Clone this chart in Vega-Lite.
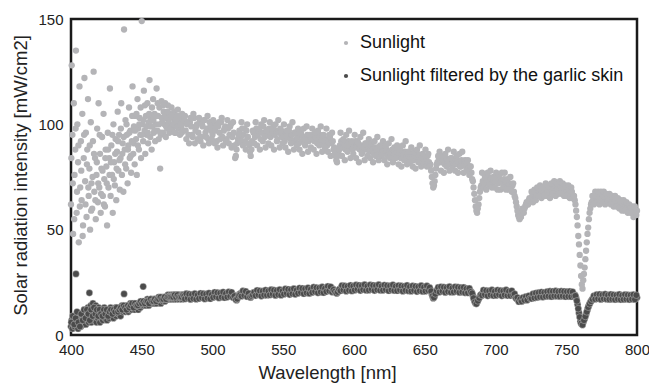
{
"$schema": "https://vega.github.io/schema/vega-lite/v6.json",
"width": 566, "height": 316,
"autosize": "none",
"padding": {"left": 71, "top": 19, "right": 12, "bottom": 50},
"background": "white",
"config": {"view": {"stroke": "#1a1a1a", "strokeWidth": 2.5}, "font": "Liberation Sans"},
"data": {"values": [
{"w":400,"s":62,"f":4},{"w":400.5,"s":128,"f":7},{"w":401,"s":95,"f":3},{"w":401.5,"s":48,"f":6},{"w":402,"s":110,"f":9},{"w":402.5,"s":76,"f":4},{"w":403,"s":88,"f":6},{"w":403.5,"s":135,"f":29},{"w":404,"s":58,"f":5},{"w":404.5,"s":100,"f":8},
{"w":405,"s":82,"f":3},{"w":405.5,"s":44,"f":7},{"w":406,"s":118,"f":5},{"w":406.5,"s":70,"f":9},{"w":407,"s":92,"f":4},{"w":407.5,"s":64,"f":7},{"w":408,"s":105,"f":10},{"w":408.5,"s":52,"f":5},{"w":409,"s":84,"f":8},{"w":409.5,"s":122,"f":6},
{"w":410,"s":73,"f":11},{"w":410.5,"s":96,"f":5},{"w":411,"s":56,"f":9},{"w":411.5,"s":88,"f":7},{"w":412,"s":112,"f":13},{"w":412.5,"s":66,"f":6},{"w":413,"s":79,"f":20},{"w":413.5,"s":50,"f":8},{"w":414,"s":101,"f":14},{"w":414.5,"s":72,"f":6},
{"w":415,"s":60,"f":10},{"w":415.5,"s":92,"f":15},{"w":416,"s":125,"f":7},{"w":416.5,"s":68,"f":12},{"w":417,"s":84,"f":9},{"w":417.5,"s":55,"f":14},{"w":418,"s":76,"f":6},{"w":418.5,"s":98,"f":11},{"w":419,"s":63,"f":8},{"w":419.5,"s":110,"f":13},
{"w":420,"s":70,"f":9},{"w":420.5,"s":86,"f":6},{"w":421,"s":58,"f":11},{"w":421.5,"s":79,"f":8},{"w":422,"s":94,"f":12},{"w":422.5,"s":66,"f":7},{"w":423,"s":105,"f":10},{"w":423.5,"s":74,"f":13},{"w":424,"s":61,"f":8},{"w":424.5,"s":88,"f":11},
{"w":425,"s":80,"f":9},{"w":425.5,"s":52,"f":7},{"w":426,"s":96,"f":12},{"w":426.5,"s":70,"f":10},{"w":427,"s":84,"f":8},{"w":427.5,"s":117,"f":11},{"w":428,"s":66,"f":13},{"w":428.5,"s":90,"f":9},{"w":429,"s":76,"f":10},{"w":429.5,"s":58,"f":12},
{"w":430,"s":100,"f":8},{"w":430.5,"s":82,"f":11},{"w":431,"s":71,"f":10},{"w":431.5,"s":93,"f":13},{"w":432,"s":64,"f":9},{"w":432.5,"s":87,"f":11},{"w":433,"s":106,"f":12},{"w":433.5,"s":78,"f":10},{"w":434,"s":95,"f":13},{"w":434.5,"s":69,"f":11},
{"w":435,"s":84,"f":9},{"w":435.5,"s":110,"f":12},{"w":436,"s":76,"f":14},{"w":436.5,"s":91,"f":11},{"w":437,"s":68,"f":12},{"w":437.5,"s":145,"f":19.5},{"w":438,"s":88,"f":13},{"w":438.5,"s":102,"f":11},{"w":439,"s":79,"f":14},{"w":439.5,"s":95,"f":12},
{"w":440,"s":72,"f":13},{"w":440.5,"s":90,"f":11},{"w":441,"s":108,"f":14},{"w":441.5,"s":84,"f":12},{"w":442,"s":97,"f":15},{"w":442.5,"s":77,"f":13},{"w":443,"s":92,"f":12},{"w":443.5,"s":118,"f":14},{"w":444,"s":86,"f":13},{"w":444.5,"s":99,"f":15},
{"w":445,"s":81,"f":12},{"w":445.5,"s":104,"f":14},{"w":446,"s":93,"f":13},{"w":446.5,"s":76,"f":15},{"w":447,"s":112,"f":14},{"w":447.5,"s":98,"f":12},{"w":448,"s":88,"f":15},{"w":448.5,"s":103,"f":14},{"w":449,"s":95,"f":13},{"w":449.5,"s":84,"f":15},
{"w":450,"s":149,"f":14},{"w":450.5,"s":100,"f":16},{"w":451,"s":92,"f":23},{"w":451.5,"s":116,"f":14},{"w":452,"s":97,"f":15},{"w":452.5,"s":86,"f":16},{"w":453,"s":104,"f":14},{"w":453.5,"s":95,"f":15},{"w":454,"s":110,"f":17},{"w":454.5,"s":91,"f":15},
{"w":455,"s":101,"f":14},{"w":455.5,"s":121,"f":16},{"w":456,"s":94,"f":15},{"w":456.5,"s":103,"f":17},{"w":457,"s":88,"f":16},{"w":457.5,"s":99,"f":15},{"w":458,"s":112,"f":17},{"w":458.5,"s":96,"f":16},{"w":459,"s":105,"f":15},{"w":459.5,"s":92,"f":17},
{"w":460,"s":100,"f":16},{"w":460.5,"s":117,"f":15},{"w":461,"s":97,"f":17},{"w":461.5,"s":104,"f":16},{"w":462,"s":93,"f":18},{"w":462.5,"s":108,"f":16},{"w":463,"s":79,"f":17},{"w":463.5,"s":95,"f":15},{"w":464,"s":111,"f":17},{"w":464.5,"s":101,"f":18},
{"w":465,"s":96,"f":16},{"w":465.5,"s":106,"f":17},{"w":466,"s":100,"f":18},{"w":466.5,"s":110,"f":16},{"w":467,"s":94,"f":17},{"w":467.5,"s":103,"f":18},{"w":468,"s":98,"f":17},{"w":468.5,"s":109,"f":19},{"w":469,"s":101,"f":17},{"w":469.5,"s":96,"f":18},
{"w":470,"s":105,"f":17},{"w":470.5,"s":100,"f":19},{"w":471,"s":108,"f":18},{"w":471.5,"s":97,"f":17},{"w":472,"s":103,"f":19},{"w":472.5,"s":99,"f":18},{"w":473,"s":106,"f":17},{"w":473.5,"s":101,"f":19},{"w":474,"s":96,"f":18},{"w":474.5,"s":104,"f":17},
{"w":475,"s":100,"f":19},{"w":475.5,"s":107,"f":18},{"w":476,"s":98,"f":19},{"w":476.5,"s":102,"f":17},{"w":477,"s":95,"f":18},{"w":477.5,"s":103,"f":19},{"w":478,"s":99,"f":18},{"w":478.5,"s":105,"f":17},{"w":479,"s":97,"f":19},{"w":479.5,"s":101,"f":18},
{"w":400.25,"s":84,"f":6},{"w":401.25,"s":72,"f":9},{"w":402.25,"s":55,"f":5},{"w":403.25,"s":98,"f":8},{"w":404.25,"s":68,"f":11},{"w":405.25,"s":90,"f":6},{"w":406.25,"s":61,"f":4},{"w":407.25,"s":78,"f":10},{"w":408.25,"s":47,"f":7},{"w":409.25,"s":95,"f":12},
{"w":410.25,"s":62,"f":8},{"w":411.25,"s":81,"f":12},{"w":412.25,"s":70,"f":10},{"w":413.25,"s":90,"f":7},{"w":414.25,"s":59,"f":12},{"w":415.25,"s":75,"f":9},{"w":416.25,"s":86,"f":13},{"w":417.25,"s":64,"f":10},{"w":418.25,"s":82,"f":12},{"w":419.25,"s":72,"f":9},
{"w":420.25,"s":95,"f":12},{"w":421.25,"s":67,"f":10},{"w":422.25,"s":78,"f":9},{"w":423.25,"s":62,"f":12},{"w":424.25,"s":84,"f":10},{"w":425.25,"s":72,"f":12},{"w":426.25,"s":88,"f":9},{"w":427.25,"s":76,"f":11},{"w":428.25,"s":82,"f":12},{"w":429.25,"s":95,"f":10},
{"w":430.25,"s":74,"f":12},{"w":431.25,"s":86,"f":11},{"w":432.25,"s":79,"f":13},{"w":433.25,"s":92,"f":11},{"w":434.25,"s":83,"f":12},{"w":435.25,"s":98,"f":13},{"w":436.25,"s":86,"f":12},{"w":437.25,"s":94,"f":14},{"w":438.25,"s":81,"f":13},{"w":439.25,"s":100,"f":12},
{"w":440.25,"s":88,"f":14},{"w":441.25,"s":96,"f":13},{"w":442.25,"s":85,"f":14},{"w":443.25,"s":104,"f":15},{"w":444.25,"s":91,"f":13},{"w":445.25,"s":97,"f":15},{"w":446.25,"s":105,"f":14},{"w":447.25,"s":90,"f":14},{"w":448.25,"s":100,"f":15},{"w":449.25,"s":108,"f":16},
{"w":450.25,"s":95,"f":15},{"w":451.25,"s":102,"f":16},{"w":452.25,"s":109,"f":15},{"w":453.25,"s":99,"f":16},{"w":454.25,"s":96,"f":16},{"w":455.25,"s":105,"f":15},{"w":456.25,"s":99,"f":17},{"w":457.25,"s":108,"f":16},{"w":458.25,"s":102,"f":16},{"w":459.25,"s":97,"f":17},
{"w":460.25,"s":104,"f":16},{"w":461.25,"s":110,"f":17},{"w":462.25,"s":100,"f":17},{"w":463.25,"s":96,"f":18},{"w":464.25,"s":103,"f":17},{"w":465.25,"s":109,"f":17},{"w":466.25,"s":104,"f":18},{"w":467.25,"s":99,"f":17},{"w":468.25,"s":106,"f":18},{"w":469.25,"s":103,"f":18},
{"w":470.25,"s":98,"f":18},{"w":471.25,"s":104,"f":18},{"w":472.25,"s":100,"f":18},{"w":473.25,"s":96,"f":19},{"w":474.25,"s":102,"f":18},{"w":475.25,"s":99,"f":19},{"w":476.25,"s":104,"f":18},{"w":477.25,"s":100,"f":18},{"w":478.25,"s":96,"f":18},{"w":479.25,"s":102,"f":19},
{"w":480,"s":102,"f":18.5},{"w":481,"s":97,"f":17.6},{"w":482,"s":100,"f":18.9},{"w":483,"s":95,"f":17.9},{"w":484,"s":101,"f":18.3},{"w":485,"s":99,"f":19.2},{"w":486,"s":94,"f":17.8},{"w":487,"s":103,"f":18.6},{"w":488,"s":97,"f":18.1},{"w":489,"s":100,"f":19.0},
{"w":490,"s":96,"f":18.2},{"w":491,"s":101,"f":19.3},{"w":492,"s":94,"f":18.4},{"w":493,"s":99,"f":17.9},{"w":494,"s":102,"f":19.1},{"w":495,"s":96,"f":18.5},{"w":496,"s":98,"f":19.4},{"w":497,"s":93,"f":18.3},{"w":498,"s":101,"f":19.0},{"w":499,"s":97,"f":18.6},
{"w":500,"s":95,"f":19.5},{"w":501,"s":100,"f":18.7},{"w":502,"s":97,"f":19.2},{"w":503,"s":92,"f":18.4},{"w":504,"s":99,"f":19.6},{"w":505,"s":96,"f":18.9},{"w":506,"s":101,"f":19.3},{"w":507,"s":94,"f":18.6},{"w":508,"s":97,"f":19.8},{"w":509,"s":99,"f":19.0},
{"w":510,"s":93,"f":19.4},{"w":511,"s":98,"f":18.8},{"w":512,"s":95,"f":19.7},{"w":513,"s":100,"f":19.1},{"w":514,"s":94,"f":19.5},{"w":515,"s":96,"f":18.9},{"w":516,"s":84,"f":17.5},{"w":517,"s":88,"f":16.5},{"w":518,"s":93,"f":18.2},{"w":519,"s":97,"f":19.4},
{"w":520,"s":94,"f":19.8},{"w":521,"s":98,"f":19.2},{"w":522,"s":95,"f":20.0},{"w":523,"s":92,"f":19.4},{"w":524,"s":97,"f":19.9},{"w":525,"s":94,"f":19.3},{"w":526,"s":90,"f":18.4},{"w":527,"s":85,"f":17.8},{"w":528,"s":92,"f":19.6},{"w":529,"s":96,"f":20.1},
{"w":530,"s":94,"f":19.5},{"w":531,"s":98,"f":20.3},{"w":532,"s":95,"f":19.7},{"w":533,"s":97,"f":20.2},{"w":534,"s":93,"f":19.6},{"w":535,"s":96,"f":20.4},{"w":536,"s":99,"f":19.9},{"w":537,"s":94,"f":20.5},{"w":538,"s":97,"f":19.8},{"w":539,"s":95,"f":20.3},
{"w":540,"s":98,"f":20.0},{"w":541,"s":94,"f":20.6},{"w":542,"s":96,"f":19.9},{"w":543,"s":99,"f":20.4},{"w":544,"s":95,"f":20.1},{"w":545,"s":97,"f":20.7},{"w":546,"s":93,"f":20.0},{"w":547,"s":96,"f":20.5},{"w":548,"s":98,"f":20.9},{"w":549,"s":94,"f":20.2},
{"w":550,"s":95,"f":20.6},{"w":551,"s":92,"f":21.0},{"w":552,"s":96,"f":20.3},{"w":553,"s":94,"f":20.8},{"w":554,"s":97,"f":21.1},{"w":555,"s":93,"f":20.5},{"w":556,"s":95,"f":20.9},{"w":557,"s":92,"f":21.3},{"w":558,"s":96,"f":20.6},{"w":559,"s":93,"f":21.1},
{"w":560,"s":94,"f":20.8},{"w":561,"s":91,"f":21.4},{"w":562,"s":95,"f":20.9},{"w":563,"s":92,"f":21.2},{"w":564,"s":94,"f":21.6},{"w":565,"s":91,"f":20.9},{"w":566,"s":93,"f":21.4},{"w":567,"s":95,"f":21.1},{"w":568,"s":92,"f":21.7},{"w":569,"s":94,"f":21.2},
{"w":570,"s":93,"f":21.5},{"w":571,"s":95,"f":21.9},{"w":572,"s":92,"f":21.3},{"w":573,"s":94,"f":21.7},{"w":574,"s":91,"f":21.2},{"w":575,"s":93,"f":21.8},{"w":576,"s":95,"f":21.4},{"w":577,"s":92,"f":22.0},{"w":578,"s":94,"f":21.5},{"w":579,"s":91,"f":21.9},
{"w":580,"s":93,"f":22.3},{"w":581,"s":90,"f":21.6},{"w":582,"s":92,"f":22.1},{"w":583,"s":94,"f":21.7},{"w":584,"s":91,"f":22.4},{"w":585,"s":92,"f":21.9},{"w":586,"s":89,"f":21.2},{"w":587,"s":85,"f":20.3},{"w":588,"s":82,"f":19.8},{"w":589,"s":87,"f":21.0},
{"w":590,"s":90,"f":21.9},{"w":591,"s":92,"f":22.4},{"w":592,"s":89,"f":21.8},{"w":593,"s":91,"f":22.5},{"w":594,"s":88,"f":22.0},{"w":595,"s":90,"f":22.6},{"w":596,"s":92,"f":22.1},{"w":597,"s":89,"f":22.7},{"w":598,"s":91,"f":22.2},{"w":599,"s":88,"f":22.8},
{"w":600,"s":90,"f":22.3},{"w":601,"s":92,"f":22.9},{"w":602,"s":89,"f":22.4},{"w":603,"s":91,"f":22.8},{"w":604,"s":88,"f":22.2},{"w":605,"s":90,"f":22.7},{"w":606,"s":87,"f":23.0},{"w":607,"s":89,"f":22.4},{"w":608,"s":91,"f":22.9},{"w":609,"s":88,"f":22.3},
{"w":610,"s":89,"f":22.8},{"w":611,"s":87,"f":22.2},{"w":612,"s":90,"f":22.7},{"w":613,"s":88,"f":22.1},{"w":614,"s":86,"f":22.6},{"w":615,"s":89,"f":22.9},{"w":616,"s":87,"f":22.3},{"w":617,"s":89,"f":22.8},{"w":618,"s":86,"f":22.2},{"w":619,"s":88,"f":22.6},
{"w":620,"s":87,"f":22.1},{"w":621,"s":89,"f":22.7},{"w":622,"s":86,"f":22.3},{"w":623,"s":88,"f":22.8},{"w":624,"s":85,"f":22.2},{"w":625,"s":87,"f":22.5},{"w":626,"s":86,"f":22.0},{"w":627,"s":88,"f":22.6},{"w":628,"s":85,"f":22.1},{"w":629,"s":87,"f":22.5},
{"w":630,"s":86,"f":22.0},{"w":631,"s":85,"f":22.4},{"w":632,"s":87,"f":21.9},{"w":633,"s":84,"f":22.5},{"w":634,"s":86,"f":22.0},{"w":635,"s":85,"f":22.4},{"w":636,"s":87,"f":21.8},{"w":637,"s":84,"f":22.3},{"w":638,"s":86,"f":21.9},{"w":639,"s":85,"f":22.4},
{"w":640,"s":84,"f":21.8},{"w":641,"s":86,"f":22.2},{"w":642,"s":83,"f":21.7},{"w":643,"s":85,"f":22.3},{"w":644,"s":84,"f":21.8},{"w":645,"s":86,"f":22.2},{"w":646,"s":83,"f":21.7},{"w":647,"s":85,"f":22.1},{"w":648,"s":84,"f":21.6},{"w":649,"s":82,"f":22.2},
{"w":650,"s":84,"f":21.8},{"w":651,"s":83,"f":22.1},{"w":652,"s":85,"f":21.6},{"w":653,"s":82,"f":22.0},{"w":654,"s":81,"f":21.4},{"w":655,"s":75,"f":19.5},{"w":656,"s":70,"f":17.5},{"w":657,"s":73,"f":18.5},{"w":658,"s":79,"f":20.5},{"w":659,"s":82,"f":21.4},
{"w":660,"s":84,"f":21.9},{"w":661,"s":82,"f":21.4},{"w":662,"s":84,"f":21.8},{"w":663,"s":83,"f":21.3},{"w":664,"s":81,"f":21.9},{"w":665,"s":84,"f":21.4},{"w":666,"s":82,"f":21.8},{"w":667,"s":83,"f":21.2},{"w":668,"s":81,"f":21.7},{"w":669,"s":84,"f":21.3},
{"w":670,"s":82,"f":21.8},{"w":671,"s":83,"f":21.2},{"w":672,"s":81,"f":21.7},{"w":673,"s":83,"f":21.3},{"w":674,"s":82,"f":21.8},{"w":675,"s":80,"f":21.2},{"w":676,"s":83,"f":21.6},{"w":677,"s":81,"f":21.1},{"w":678,"s":82,"f":21.5},{"w":679,"s":80,"f":21.0},
{"w":680,"s":81,"f":21.4},{"w":681,"s":79,"f":20.9},{"w":682,"s":80,"f":21.2},{"w":683,"s":77,"f":20.4},{"w":684,"s":73,"f":18.8},{"w":685,"s":67,"f":16.5},{"w":686,"s":61,"f":15.0},{"w":687,"s":58,"f":15.5},{"w":688,"s":62,"f":17.0},{"w":689,"s":68,"f":18.4},
{"w":690,"s":71,"f":19.2},{"w":691,"s":73,"f":19.8},{"w":692,"s":72,"f":19.3},{"w":693,"s":74,"f":20.0},{"w":694,"s":73,"f":19.5},{"w":695,"s":75,"f":20.2},{"w":696,"s":73,"f":19.7},{"w":697,"s":74,"f":20.3},{"w":698,"s":72,"f":19.8},{"w":699,"s":74,"f":20.4},
{"w":700,"s":73,"f":19.9},{"w":701,"s":75,"f":20.5},{"w":702,"s":72,"f":20.0},{"w":703,"s":74,"f":20.6},{"w":704,"s":73,"f":20.1},{"w":705,"s":72,"f":20.5},{"w":706,"s":74,"f":19.9},{"w":707,"s":72,"f":20.4},{"w":708,"s":73,"f":19.8},{"w":709,"s":71,"f":20.3},
{"w":710,"s":72,"f":19.7},{"w":711,"s":70,"f":20.1},{"w":712,"s":71,"f":19.5},{"w":713,"s":68,"f":19.0},{"w":714,"s":65,"f":18.2},{"w":715,"s":61,"f":17.3},{"w":716,"s":57,"f":16.6},{"w":717,"s":55,"f":16.2},{"w":718,"s":56,"f":16.5},{"w":719,"s":60,"f":17.4},
{"w":720,"s":58,"f":16.9},{"w":721,"s":61,"f":17.6},{"w":722,"s":63,"f":17.1},{"w":723,"s":62,"f":17.9},{"w":724,"s":65,"f":18.3},{"w":725,"s":64,"f":17.9},{"w":726,"s":66,"f":18.6},{"w":727,"s":65,"f":18.2},{"w":728,"s":67,"f":18.8},{"w":729,"s":66,"f":18.4},
{"w":730,"s":68,"f":19.0},{"w":731,"s":67,"f":18.6},{"w":732,"s":69,"f":19.2},{"w":733,"s":67,"f":18.8},{"w":734,"s":68,"f":19.3},{"w":735,"s":69,"f":18.9},{"w":736,"s":67,"f":19.5},{"w":737,"s":69,"f":19.0},{"w":738,"s":68,"f":19.6},{"w":739,"s":70,"f":19.1},
{"w":740,"s":69,"f":19.7},{"w":741,"s":70,"f":19.2},{"w":742,"s":68,"f":19.8},{"w":743,"s":71,"f":19.3},{"w":744,"s":69,"f":19.9},{"w":745,"s":70,"f":19.4},{"w":746,"s":71,"f":19.8},{"w":747,"s":69,"f":19.3},{"w":748,"s":70,"f":19.9},{"w":749,"s":68,"f":19.4},
{"w":750,"s":69,"f":19.8},{"w":751,"s":68,"f":19.3},{"w":752,"s":69,"f":19.9},{"w":753,"s":67,"f":19.4},{"w":754,"s":68,"f":19.8},{"w":755,"s":66,"f":19.2},{"w":756,"s":64,"f":19.0},{"w":757,"s":59,"f":17.5},{"w":758,"s":52,"f":14.5},{"w":759,"s":43,"f":10.5},
{"w":760,"s":33,"f":6.5},{"w":761,"s":24,"f":5.2},{"w":762,"s":26,"f":6.0},{"w":763,"s":32,"f":7.8},{"w":764,"s":40,"f":9.8},{"w":765,"s":48,"f":12.0},{"w":766,"s":55,"f":14.0},{"w":767,"s":60,"f":15.5},{"w":768,"s":63,"f":16.6},{"w":769,"s":64,"f":17.3},
{"w":770,"s":66,"f":17.9},{"w":771,"s":65,"f":18.3},{"w":772,"s":66,"f":17.8},{"w":773,"s":65,"f":18.4},{"w":774,"s":66,"f":17.9},{"w":775,"s":65,"f":18.5},{"w":776,"s":66,"f":18.0},{"w":777,"s":64,"f":18.6},{"w":778,"s":65,"f":18.1},{"w":779,"s":66,"f":18.5},
{"w":780,"s":64,"f":17.9},{"w":781,"s":65,"f":18.4},{"w":782,"s":63,"f":17.8},{"w":783,"s":64,"f":18.3},{"w":784,"s":63,"f":17.7},{"w":785,"s":64,"f":18.2},{"w":786,"s":62,"f":17.8},{"w":787,"s":63,"f":18.3},{"w":788,"s":62,"f":17.7},{"w":789,"s":61,"f":18.2},
{"w":790,"s":62,"f":17.8},{"w":791,"s":60,"f":18.3},{"w":792,"s":61,"f":17.6},{"w":793,"s":60,"f":18.1},{"w":794,"s":59,"f":17.7},{"w":795,"s":60,"f":18.2},{"w":796,"s":59,"f":17.6},{"w":797,"s":58,"f":18.1},{"w":798,"s":59,"f":17.7},{"w":799,"s":58,"f":18.2},
{"w":800,"s":59,"f":17.8},
{"w":480.5,"s":104,"f":17.1},{"w":481.5,"s":93,"f":19.6},{"w":482.5,"s":101,"f":17.5},{"w":483.5,"s":91,"f":19.4},{"w":484.5,"s":103,"f":16.9},{"w":485.5,"s":95,"f":19.2},{"w":486.5,"s":105,"f":17.3},{"w":487.5,"s":91,"f":19.7},{"w":488.5,"s":99,"f":17.0},{"w":489.5,"s":93,"f":19.0},
{"w":490.5,"s":103,"f":17.3},{"w":491.5,"s":92,"f":19.8},{"w":492.5,"s":100,"f":17.7},{"w":493.5,"s":90,"f":19.6},{"w":494.5,"s":102,"f":17.1},{"w":495.5,"s":94,"f":19.4},{"w":496.5,"s":104,"f":17.5},{"w":497.5,"s":91,"f":19.9},{"w":498.5,"s":99,"f":17.2},{"w":499.5,"s":93,"f":19.2},
{"w":500.5,"s":102,"f":17.8},{"w":501.5,"s":91,"f":20.3},{"w":502.5,"s":99,"f":18.2},{"w":503.5,"s":89,"f":20.1},{"w":504.5,"s":101,"f":17.6},{"w":505.5,"s":93,"f":19.9},{"w":506.5,"s":103,"f":18.0},{"w":507.5,"s":90,"f":20.4},{"w":508.5,"s":98,"f":17.7},{"w":509.5,"s":92,"f":19.7},
{"w":510.5,"s":102,"f":18.0},{"w":511.5,"s":91,"f":20.5},{"w":512.5,"s":99,"f":18.4},{"w":513.5,"s":89,"f":20.3},{"w":514.5,"s":101,"f":17.8},{"w":515.5,"s":90,"f":18.5},{"w":516.5,"s":85,"f":16.8},{"w":517.5,"s":91,"f":17.2},{"w":518.5,"s":95,"f":18.6},{"w":519.5,"s":92,"f":19.0},
{"w":520.5,"s":101,"f":18.4},{"w":521.5,"s":90,"f":20.9},{"w":522.5,"s":98,"f":18.8},{"w":523.5,"s":88,"f":20.7},{"w":524.5,"s":100,"f":18.2},{"w":525.5,"s":91,"f":19.8},{"w":526.5,"s":87,"f":18.0},{"w":527.5,"s":88,"f":18.5},{"w":528.5,"s":97,"f":19.0},{"w":529.5,"s":91,"f":20.3},
{"w":530.5,"s":101,"f":18.7},{"w":531.5,"s":90,"f":21.2},{"w":532.5,"s":98,"f":19.1},{"w":533.5,"s":88,"f":21.0},{"w":534.5,"s":100,"f":18.5},{"w":535.5,"s":92,"f":20.8},{"w":536.5,"s":102,"f":18.9},{"w":537.5,"s":89,"f":21.3},{"w":538.5,"s":97,"f":18.9},{"w":539.5,"s":91,"f":20.9},
{"w":540.5,"s":101,"f":19.0},{"w":541.5,"s":90,"f":21.5},{"w":542.5,"s":98,"f":19.4},{"w":543.5,"s":88,"f":21.3},{"w":544.5,"s":100,"f":18.8},{"w":545.5,"s":92,"f":21.1},{"w":546.5,"s":102,"f":19.2},{"w":547.5,"s":89,"f":21.6},{"w":548.5,"s":97,"f":18.9},{"w":549.5,"s":91,"f":20.9},
{"w":550.5,"s":100,"f":19.4},{"w":551.5,"s":89,"f":21.9},{"w":552.5,"s":97,"f":19.8},{"w":553.5,"s":87,"f":21.7},{"w":554.5,"s":99,"f":19.2},{"w":555.5,"s":91,"f":21.5},{"w":556.5,"s":101,"f":19.6},{"w":557.5,"s":88,"f":22.0},{"w":558.5,"s":96,"f":19.3},{"w":559.5,"s":90,"f":21.3},
{"w":560.5,"s":98,"f":19.8},{"w":561.5,"s":88,"f":22.3},{"w":562.5,"s":96,"f":20.2},{"w":563.5,"s":86,"f":22.1},{"w":564.5,"s":98,"f":19.6},{"w":565.5,"s":90,"f":21.9},{"w":566.5,"s":99,"f":20.0},{"w":567.5,"s":87,"f":22.4},{"w":568.5,"s":95,"f":19.7},{"w":569.5,"s":89,"f":21.7},
{"w":570.5,"s":98,"f":20.2},{"w":571.5,"s":88,"f":22.7},{"w":572.5,"s":96,"f":20.6},{"w":573.5,"s":86,"f":22.5},{"w":574.5,"s":97,"f":20.0},{"w":575.5,"s":90,"f":22.3},{"w":576.5,"s":99,"f":20.4},{"w":577.5,"s":87,"f":22.8},{"w":578.5,"s":95,"f":20.1},{"w":579.5,"s":89,"f":22.1},
{"w":580.5,"s":98,"f":20.6},{"w":581.5,"s":87,"f":23.1},{"w":582.5,"s":95,"f":21.0},{"w":583.5,"s":85,"f":22.9},{"w":584.5,"s":96,"f":20.4},{"w":585.5,"s":88,"f":21.5},{"w":586.5,"s":86,"f":20.6},{"w":587.5,"s":83,"f":19.9},{"w":588.5,"s":85,"f":20.4},{"w":589.5,"s":88,"f":21.6},
{"w":590.5,"s":96,"f":21.0},{"w":591.5,"s":85,"f":23.5},{"w":592.5,"s":93,"f":21.4},{"w":593.5,"s":83,"f":23.3},{"w":594.5,"s":95,"f":20.8},{"w":595.5,"s":87,"f":23.1},{"w":596.5,"s":97,"f":21.2},{"w":597.5,"s":84,"f":23.6},{"w":598.5,"s":92,"f":20.9},{"w":599.5,"s":86,"f":23.2},
{"w":600.5,"s":95,"f":21.3},{"w":601.5,"s":84,"f":23.8},{"w":602.5,"s":92,"f":21.7},{"w":603.5,"s":82,"f":23.6},{"w":604.5,"s":94,"f":21.1},{"w":605.5,"s":86,"f":23.4},{"w":606.5,"s":96,"f":21.5},{"w":607.5,"s":83,"f":23.9},{"w":608.5,"s":91,"f":21.2},{"w":609.5,"s":85,"f":23.2},
{"w":610.5,"s":93,"f":21.3},{"w":611.5,"s":84,"f":23.8},{"w":612.5,"s":91,"f":21.7},{"w":613.5,"s":82,"f":23.6},{"w":614.5,"s":92,"f":21.1},{"w":615.5,"s":85,"f":23.4},{"w":616.5,"s":94,"f":21.5},{"w":617.5,"s":83,"f":23.9},{"w":618.5,"s":90,"f":21.2},{"w":619.5,"s":85,"f":23.2},
{"w":620.5,"s":92,"f":21.2},{"w":621.5,"s":83,"f":23.7},{"w":622.5,"s":90,"f":21.6},{"w":623.5,"s":81,"f":23.5},{"w":624.5,"s":91,"f":21.0},{"w":625.5,"s":84,"f":23.3},{"w":626.5,"s":93,"f":21.4},{"w":627.5,"s":82,"f":23.8},{"w":628.5,"s":89,"f":21.1},{"w":629.5,"s":84,"f":23.1},
{"w":630.5,"s":90,"f":21.0},{"w":631.5,"s":81,"f":23.5},{"w":632.5,"s":88,"f":21.4},{"w":633.5,"s":80,"f":23.3},{"w":634.5,"s":90,"f":20.8},{"w":635.5,"s":83,"f":23.1},{"w":636.5,"s":92,"f":21.2},{"w":637.5,"s":81,"f":23.6},{"w":638.5,"s":87,"f":20.9},{"w":639.5,"s":82,"f":22.9},
{"w":640.5,"s":89,"f":20.8},{"w":641.5,"s":80,"f":23.3},{"w":642.5,"s":87,"f":21.2},{"w":643.5,"s":79,"f":23.1},{"w":644.5,"s":88,"f":20.6},{"w":645.5,"s":82,"f":22.9},{"w":646.5,"s":90,"f":21.0},{"w":647.5,"s":80,"f":23.4},{"w":648.5,"s":86,"f":20.7},{"w":649.5,"s":81,"f":22.7},
{"w":650.5,"s":88,"f":20.8},{"w":651.5,"s":80,"f":23.3},{"w":652.5,"s":86,"f":21.2},{"w":653.5,"s":80,"f":22.5},{"w":654.5,"s":78,"f":20.8},{"w":655.5,"s":72,"f":18.5},{"w":656.5,"s":71,"f":17.8},{"w":657.5,"s":76,"f":19.5},{"w":658.5,"s":81,"f":21.0},{"w":659.5,"s":85,"f":22.6},
{"w":660.5,"s":87,"f":20.4},{"w":661.5,"s":78,"f":22.9},{"w":662.5,"s":85,"f":20.8},{"w":663.5,"s":77,"f":22.7},{"w":664.5,"s":86,"f":20.2},{"w":665.5,"s":80,"f":22.5},{"w":666.5,"s":88,"f":20.6},{"w":667.5,"s":78,"f":23.0},{"w":668.5,"s":84,"f":20.3},{"w":669.5,"s":79,"f":22.3},
{"w":670.5,"s":87,"f":20.4},{"w":671.5,"s":78,"f":22.9},{"w":672.5,"s":85,"f":20.8},{"w":673.5,"s":77,"f":22.7},{"w":674.5,"s":86,"f":20.2},{"w":675.5,"s":80,"f":22.5},{"w":676.5,"s":87,"f":20.4},{"w":677.5,"s":77,"f":22.6},{"w":678.5,"s":83,"f":20.0},{"w":679.5,"s":78,"f":22.0},
{"w":680.5,"s":83,"f":20.0},{"w":681.5,"s":76,"f":22.1},{"w":682.5,"s":80,"f":20.5},{"w":683.5,"s":74,"f":19.8},{"w":684.5,"s":70,"f":17.5},{"w":685.5,"s":64,"f":15.6},{"w":686.5,"s":59,"f":14.8},{"w":687.5,"s":60,"f":16.2},{"w":688.5,"s":65,"f":17.6},{"w":689.5,"s":70,"f":19.0},
{"w":690.5,"s":77,"f":18.8},{"w":691.5,"s":70,"f":21.3},{"w":692.5,"s":75,"f":19.2},{"w":693.5,"s":69,"f":21.1},{"w":694.5,"s":77,"f":18.6},{"w":695.5,"s":71,"f":20.9},{"w":696.5,"s":78,"f":19.0},{"w":697.5,"s":70,"f":21.4},{"w":698.5,"s":75,"f":18.7},{"w":699.5,"s":70,"f":20.7},
{"w":700.5,"s":77,"f":18.8},{"w":701.5,"s":69,"f":21.3},{"w":702.5,"s":76,"f":19.2},{"w":703.5,"s":69,"f":21.1},{"w":704.5,"s":77,"f":18.6},{"w":705.5,"s":70,"f":20.9},{"w":706.5,"s":77,"f":19.0},{"w":707.5,"s":69,"f":21.4},{"w":708.5,"s":74,"f":18.7},{"w":709.5,"s":69,"f":20.7},
{"w":710.5,"s":75,"f":18.7},{"w":711.5,"s":68,"f":21.0},{"w":712.5,"s":72,"f":19.0},{"w":713.5,"s":66,"f":19.5},{"w":714.5,"s":63,"f":17.5},{"w":715.5,"s":59,"f":17.8},{"w":716.5,"s":56,"f":15.8},{"w":717.5,"s":56,"f":17.0},{"w":718.5,"s":58,"f":15.9},{"w":719.5,"s":59,"f":17.8},
{"w":720.5,"s":60,"f":16.5},{"w":721.5,"s":62,"f":18.2},{"w":722.5,"s":62,"f":16.6},{"w":723.5,"s":64,"f":18.6},{"w":724.5,"s":64,"f":17.4},{"w":725.5,"s":68,"f":17.3},{"w":726.5,"s":63,"f":19.5},{"w":727.5,"s":69,"f":17.6},{"w":728.5,"s":64,"f":19.9},{"w":729.5,"s":70,"f":17.8},
{"w":730.5,"s":66,"f":20.1},{"w":731.5,"s":71,"f":18.1},{"w":732.5,"s":65,"f":20.4},{"w":733.5,"s":70,"f":18.0},{"w":734.5,"s":66,"f":20.2},{"w":735.5,"s":72,"f":18.3},{"w":736.5,"s":66,"f":20.6},{"w":737.5,"s":71,"f":18.4},{"w":738.5,"s":65,"f":20.8},{"w":739.5,"s":72,"f":18.2},
{"w":740.5,"s":67,"f":20.7},{"w":741.5,"s":73,"f":18.5},{"w":742.5,"s":66,"f":20.9},{"w":743.5,"s":72,"f":18.4},{"w":744.5,"s":67,"f":20.6},{"w":745.5,"s":73,"f":18.3},{"w":746.5,"s":67,"f":20.8},{"w":747.5,"s":72,"f":18.5},{"w":748.5,"s":66,"f":20.7},{"w":749.5,"s":71,"f":18.2},
{"w":750.5,"s":66,"f":20.6},{"w":751.5,"s":71,"f":18.3},{"w":752.5,"s":65,"f":20.7},{"w":753.5,"s":70,"f":18.2},{"w":754.5,"s":65,"f":20.5},{"w":755.5,"s":66,"f":18.4},{"w":756.5,"s":62,"f":18.6},{"w":757.5,"s":56,"f":16.2},{"w":758.5,"s":47,"f":12.5},{"w":759.5,"s":38,"f":8.5},
{"w":760.5,"s":28,"f":5.5},{"w":761.5,"s":22,"f":4.8},{"w":762.5,"s":29,"f":7.0},{"w":763.5,"s":36,"f":8.8},{"w":764.5,"s":44,"f":11.0},{"w":765.5,"s":51,"f":13.2},{"w":766.5,"s":58,"f":14.8},{"w":767.5,"s":62,"f":16.0},{"w":768.5,"s":66,"f":17.0},{"w":769.5,"s":62,"f":18.6},
{"w":770.5,"s":68,"f":17.0},{"w":771.5,"s":63,"f":19.2},{"w":772.5,"s":68,"f":17.2},{"w":773.5,"s":62,"f":19.3},{"w":774.5,"s":68,"f":16.9},{"w":775.5,"s":63,"f":19.0},{"w":776.5,"s":68,"f":17.2},{"w":777.5,"s":62,"f":19.4},{"w":778.5,"s":67,"f":17.0},{"w":779.5,"s":63,"f":18.9},
{"w":780.5,"s":67,"f":16.9},{"w":781.5,"s":62,"f":19.3},{"w":782.5,"s":66,"f":17.0},{"w":783.5,"s":61,"f":19.1},{"w":784.5,"s":66,"f":16.8},{"w":785.5,"s":61,"f":18.9},{"w":786.5,"s":65,"f":17.0},{"w":787.5,"s":60,"f":19.3},{"w":788.5,"s":64,"f":16.8},{"w":789.5,"s":59,"f":18.8},
{"w":790.5,"s":64,"f":16.9},{"w":791.5,"s":59,"f":19.2},{"w":792.5,"s":63,"f":17.0},{"w":793.5,"s":58,"f":19.0},{"w":794.5,"s":62,"f":16.8},{"w":795.5,"s":58,"f":18.9},{"w":796.5,"s":61,"f":17.0},{"w":797.5,"s":56,"f":19.2},{"w":798.5,"s":61,"f":16.9},{"w":799.5,"s":57,"f":18.9}
]},
"encoding": {
  "x": {"field": "w", "type": "quantitative",
    "scale": {"domain": [400, 800], "nice": false, "zero": false},
    "axis": {"values": [400,450,500,550,600,650,700,750,800], "title": "Wavelength [nm]", "grid": false, "ticks": false, "domain": false,
      "labelFontSize": 15, "labelColor": "#222", "labelPadding": 7, "labelFlush": false,
      "titleFontSize": 18.5, "titleFontWeight": "normal", "titleColor": "#222", "titlePadding": 6, "titleX": 256, "titleAlign": "center"}}
},
"layer": [
  {"mark": {"type": "point", "filled": true, "size": 40, "opacity": 1},
   "encoding": {
     "y": {"field": "s", "type": "quantitative", "scale": {"domain": [0, 150], "nice": false},
       "axis": {"values": [0, 50, 100, 150], "title": "Solar radiation intensity [mW/cm2]", "grid": false, "ticks": false, "domain": false,
         "labelFontSize": 15, "labelColor": "#222", "labelPadding": 8,
         "titleFontSize": 18.5, "titleFontWeight": "normal", "titleColor": "#222", "titlePadding": 7, "titleY": 156}},
     "color": {"datum": "Sunlight", "type": "nominal",
       "scale": {"domain": ["Sunlight", "Sunlight filtered by the garlic skin"], "range": ["#b4b4b7", "#4b4b4b"]},
       "legend": {"title": null, "orient": "none", "legendX": 266, "legendY": 15, "symbolType": "circle", "symbolSize": 18, "labelFontSize": 18, "labelColor": "#111", "labelOffset": 5, "labelLimit": 0, "rowPadding": 15, "padding": 0}}
   }},
  {"mark": {"type": "point", "filled": true, "size": 45, "opacity": 1, "stroke": "#d8d8d8", "strokeWidth": 0.4},
   "encoding": {
     "y": {"field": "f", "type": "quantitative", "scale": {"domain": [0, 150], "nice": false},
       "axis": {"values": [0, 50, 100, 150], "title": "Solar radiation intensity [mW/cm2]", "grid": false, "ticks": false, "domain": false,
         "labelFontSize": 15, "labelColor": "#222", "labelPadding": 8,
         "titleFontSize": 18.5, "titleFontWeight": "normal", "titleColor": "#222", "titlePadding": 7, "titleY": 156}},
     "color": {"datum": "Sunlight filtered by the garlic skin", "type": "nominal"}
   }}
]
}
